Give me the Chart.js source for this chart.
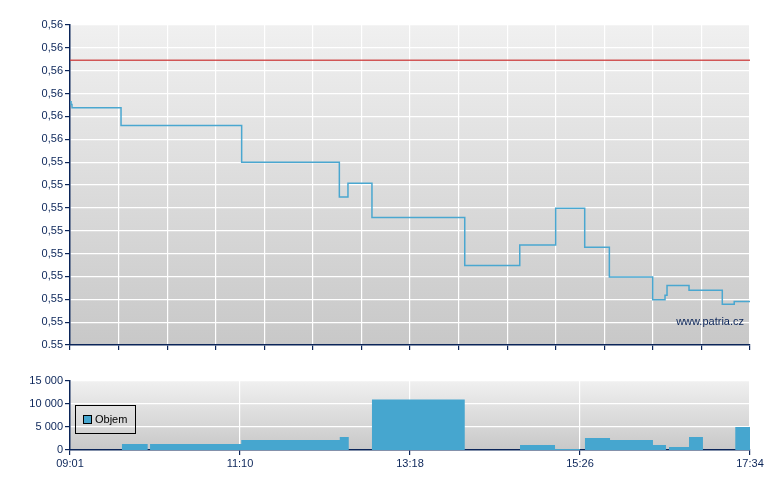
<!DOCTYPE html>
<html>
<head>
<meta charset="utf-8">
<script src="https://cdn.jsdelivr.net/npm/chart.js@4.4.1/dist/chart.umd.min.js"></script>
<style>
  body { margin: 0; background: #fff; }
  #wrap { position: relative; width: 780px; height: 490px; font-family: "Liberation Sans", Arial, sans-serif; color: #0b2559; }
  canvas { position: absolute; left: 0; }
  #price { top: 0; }
  #volume { top: 360px; }
  #legend { position: absolute; left: 75px; top: 405px; width: 59px; height: 27px; border: 1px solid #000; font-size: 11px; color: #000; }
  #legend span.sw { position: absolute; left: 7px; top: 9px; width: 7px; height: 7px; background: #46a6cf; border: 1px solid #000; }
  #legend span.tx { position: absolute; left: 19px; top: 7px; }
  #watermark { position: absolute; right: 36px; top: 315px; font-size: 11px; }
</style>
</head>
<body>
<div id="wrap">
  <canvas id="price" width="780" height="360"></canvas>
  <canvas id="volume" width="780" height="130"></canvas>
  <div id="watermark">www.patria.cz</div>
  <div id="legend"><span class="sw"></span><span class="tx">Objem</span></div>
</div>
<script>
// minutes since midnight, 09:01 .. 17:34
var dayStart = 541;
var dayEnd = 1054;

var priceTimes = [541, 541.8, 542.5, 579.5, 670.5, 744.2, 750.7, 768.8, 838.8, 880.3, 907.4,
  929.3, 947.9, 980.6, 989.9, 991.4, 1008, 1033.1, 1042.1, 1054];
var priceValues = [0.55532, 0.55526, 0.55519, 0.55480, 0.55400, 0.55324, 0.55354, 0.55279, 0.55174, 0.55219, 0.55299,
  0.55214, 0.55149, 0.55099, 0.55109, 0.55130, 0.55120, 0.55089, 0.55095, 0.55095];
var prevClose = 0.55623;

var volumeTimes = [541, 580.2, 599.6, 601.4, 670.2, 744.5, 751.3, 768.8, 838.8, 880.5, 906.9,
  925.7, 929.5, 948.4, 980.8, 990.6, 992.9, 1008, 1018.5, 1042.9, 1054];
var volumeValues = [0, 1300, 0, 1300, 2200, 2800, 0, 11000, 0, 1100, 200,
  0, 2600, 2150, 1100, 0, 650, 2800, 0, 5000, 5000];

// bottom to top
var priceTickLabels = ["0.55", "0,55", "0,55", "0,55", "0,55", "0,55", "0,55", "0,55", "0,55",
  "0,56", "0,56", "0,56", "0,56", "0,56", "0,56"];
var volumeTicks = [0, 5000, 10000, 15000];
var timeTickLabels = ["09:01", "11:10", "13:18", "15:26", "17:34"];

var navy = "#0b2559";
var font = { family: "Liberation Sans", size: 11 };

var plotBackground = {
  id: "plotBackground",
  beforeDraw: function (chart) {
    var a = chart.chartArea;
    var ctx = chart.ctx;
    var g = ctx.createLinearGradient(0, a.top, 0, a.bottom);
    g.addColorStop(0, "#f0f0f0");
    g.addColorStop(1, "#c8c8c8");
    ctx.save();
    ctx.fillStyle = g;
    ctx.fillRect(a.left, a.top, a.right - a.left, a.bottom - a.top);
    ctx.restore();
  }
};

function toPoints(xs, ys) {
  return xs.map(function (x, i) { return { x: x, y: ys[i] }; });
}

function make_price_chart() {
  var ctx = document.getElementById("price").getContext("2d");
  new Chart(ctx, {
    type: "line",
    data: {
      datasets: [
        {
          data: [{ x: dayStart, y: prevClose }, { x: dayEnd, y: prevClose }],
          borderColor: "rgba(205,60,60,0.85)",
          borderWidth: 1.5,
          pointRadius: 0
        },
        {
          data: toPoints(priceTimes, priceValues),
          borderColor: "#4aa7d0",
          borderWidth: 1.5,
          stepped: true,
          pointRadius: 0
        }
      ]
    },
    options: {
      responsive: false,
      animation: false,
      devicePixelRatio: 1,
      layout: { padding: { top: 25, right: 30, left: 0, bottom: 0 } },
      plugins: { legend: { display: false }, tooltip: { enabled: false } },
      scales: {
        x: {
          type: "linear",
          min: dayStart,
          max: dayEnd,
          afterBuildTicks: function (scale) {
            var ticks = [];
            for (var i = 0; i <= 14; i++) {
              ticks.push({ value: dayStart + i * (dayEnd - dayStart) / 14 });
            }
            scale.ticks = ticks;
          },
          afterFit: function (scale) { scale.height = 15; },
          ticks: { display: false },
          grid: { color: "#ffffff", lineWidth: 1.2, tickColor: navy, tickLength: 5 },
          border: { color: navy, width: 1.5 }
        },
        y: {
          min: 0.55,
          max: 0.557,
          afterBuildTicks: function (scale) {
            scale.ticks = priceTickLabels.map(function (l, i) {
              return { value: 0.55 + i * 0.0005 };
            });
          },
          afterFit: function (scale) { scale.width = 70; },
          ticks: {
            color: navy,
            font: font,
            padding: 2,
            callback: function (v, i) { return priceTickLabels[i]; }
          },
          grid: { color: "#ffffff", lineWidth: 1.2, tickColor: navy, tickLength: 5 },
          border: { color: navy, width: 1.5 }
        }
      }
    },
    plugins: [plotBackground]
  });
}

function make_volume_chart() {
  var ctx = document.getElementById("volume").getContext("2d");
  new Chart(ctx, {
    type: "line",
    data: {
      datasets: [
        {
          label: "Objem",
          data: toPoints(volumeTimes, volumeValues),
          borderColor: "rgba(0,0,0,0)",
          borderWidth: 0,
          backgroundColor: "#46a6cf",
          fill: "origin",
          stepped: true,
          pointRadius: 0
        }
      ]
    },
    options: {
      responsive: false,
      animation: false,
      devicePixelRatio: 1,
      layout: { padding: { top: 21, right: 30, left: 0, bottom: 0 } },
      plugins: { legend: { display: false }, tooltip: { enabled: false } },
      scales: {
        x: {
          type: "linear",
          min: dayStart,
          max: dayEnd,
          afterBuildTicks: function (scale) {
            scale.ticks = timeTickLabels.map(function (l, i) {
              return { value: dayStart + i * (dayEnd - dayStart) / 4 };
            });
          },
          afterFit: function (scale) { scale.height = 40; },
          ticks: {
            color: navy,
            font: font,
            padding: 2,
            maxRotation: 0,
            callback: function (v, i) { return timeTickLabels[i]; }
          },
          grid: { color: "#ffffff", lineWidth: 1.2, tickColor: navy, tickLength: 5 },
          border: { color: navy, width: 1.5 }
        },
        y: {
          min: 0,
          max: 15000,
          afterBuildTicks: function (scale) {
            scale.ticks = volumeTicks.map(function (v) { return { value: v }; });
          },
          afterFit: function (scale) { scale.width = 70; },
          ticks: {
            color: navy,
            font: font,
            padding: 2,
            callback: function (v) {
              return String(v).replace(/\B(?=(\d{3})+(?!\d))/g, " ");
            }
          },
          grid: { color: "#ffffff", lineWidth: 1.2, tickColor: navy, tickLength: 5 },
          border: { color: navy, width: 1.5 }
        }
      }
    },
    plugins: [plotBackground]
  });
}

make_price_chart();
make_volume_chart();
</script>
</body>
</html>
